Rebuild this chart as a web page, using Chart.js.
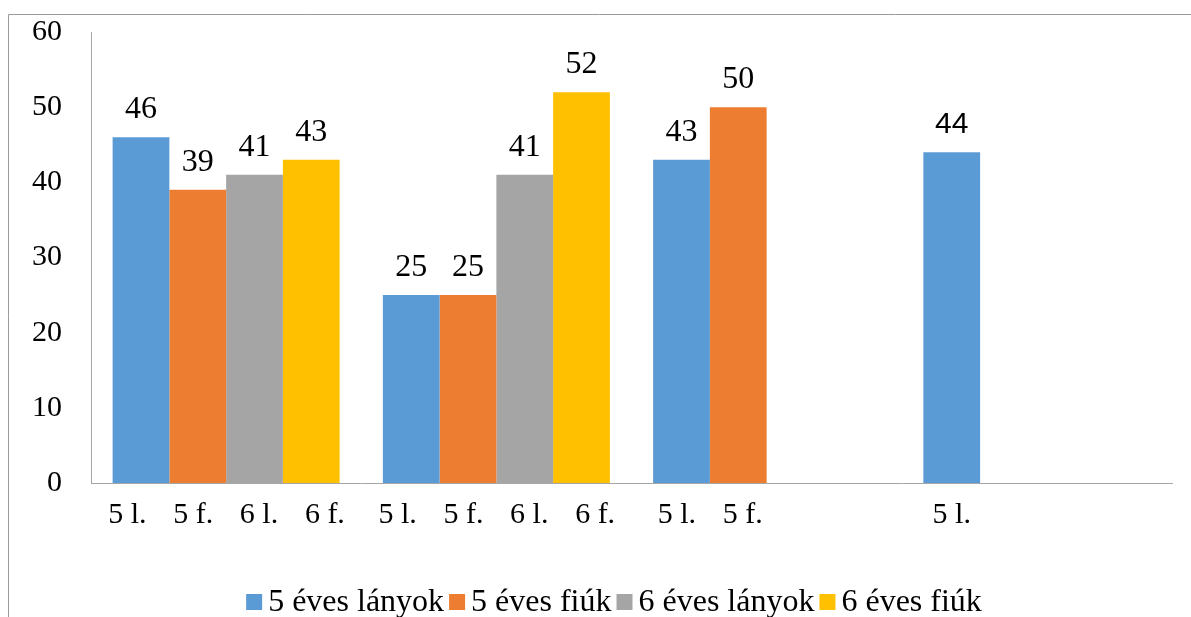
<!DOCTYPE html>
<html>
<head>
<meta charset="utf-8">
<script src="https://cdn.jsdelivr.net/npm/chart.js@4/dist/chart.umd.min.js"></script>
<style>
  html, body { margin: 0; padding: 0; background: #ffffff; }
  #wrap { width: 1191px; height: 617px; }
</style>
</head>
<body>
<div id="wrap"><canvas id="chart" width="1191" height="617"></canvas></div>
<script>
// Groups of bars (one per survey group)
const groups = ['I.', 'II.', 'III.', 'IV.'];

// Series values per group (null = no bar in that group)
const girls5 = [46, 25, 43, 44];
const boys5  = [39, 25, 50, null];
const girls6 = [41, 41, null, null];
const boys6  = [43, 52, null, null];

// Legend names and the short tag printed under each bar
const seriesNames = ['5 éves lányok', '5 éves fiúk', '6 éves lányok', '6 éves fiúk'];
const barTags = ['5 l.', '5 f.', '6 l.', '6 f.'];

// Value axis
const yMin = 0;
const yMax = 60;
const yStep = 10;

// Styling
const seriesColors = ['#5B9BD5', '#ED7D31', '#A5A5A5', '#FFC000'];
const SERIF = '"Liberation Serif", "Times New Roman", serif';
const SANS = '"Liberation Sans", Arial, sans-serif';
const sansLabelGroups = [3];          // groups whose value label is set in a sans face
const tagPitchFactor = 1.16;          // spacing of bar tags relative to bar width
const legendCenterX = 614;

const seriesData = [girls5, boys5, girls6, boys6];

const decorations = {
  id: 'decorations',
  beforeDraw(chart) {
    const ctx = chart.ctx;
    ctx.save();
    ctx.strokeStyle = '#9a9a9a';
    ctx.lineWidth = 1;
    ctx.beginPath();
    ctx.moveTo(8.5, chart.height);
    ctx.lineTo(8.5, 14.5);
    ctx.lineTo(chart.width, 14.5);
    ctx.stroke();
    ctx.restore();
  },
  afterDatasetsDraw(chart) {
    const ctx = chart.ctx;
    const area = chart.chartArea;
    ctx.save();
    ctx.fillStyle = '#000000';
    ctx.textAlign = 'center';
    ctx.textBaseline = 'alphabetic';

    // value labels above each bar
    chart.data.datasets.forEach((ds, di) => {
      const meta = chart.getDatasetMeta(di);
      meta.data.forEach((bar, i) => {
        const v = ds.data[i];
        if (v === null || v === undefined) return;
        const sans = sansLabelGroups.includes(i);
        ctx.font = sans ? '30px ' + SANS : '32px ' + SERIF;
        ctx.fillText(String(v), bar.x, bar.y - 19);
      });
    });

    // short tags under the bars of each group
    ctx.font = '30px ' + SERIF;
    groups.forEach((g, i) => {
      const present = [];
      chart.data.datasets.forEach((ds, di) => {
        const v = ds.data[i];
        if (v !== null && v !== undefined) {
          present.push({ di, bar: chart.getDatasetMeta(di).data[i] });
        }
      });
      if (!present.length) return;
      const first = present[0].bar;
      const last = present[present.length - 1].bar;
      const center = (first.x + last.x) / 2;
      const pitch = first.width * tagPitchFactor;
      const n = present.length;
      present.forEach((p, k) => {
        const x = center + (k - (n - 1) / 2) * pitch;
        ctx.fillText(barTags[p.di], x, area.bottom + 40);
      });
    });
    ctx.restore();
  },
  afterDraw(chart) {
    // legend along the bottom edge
    const ctx = chart.ctx;
    ctx.save();
    ctx.font = '32px ' + SERIF;
    const box = 16, gapText = 6, gapItem = 5;
    const widths = seriesNames.map(n => ctx.measureText(n).width);
    let total = 0;
    widths.forEach((w, i) => { total += box + gapText + w + (i < widths.length - 1 ? gapItem : 0); });
    let x = legendCenterX - total / 2;
    const baseline = 611;
    ctx.textAlign = 'left';
    ctx.textBaseline = 'alphabetic';
    seriesNames.forEach((name, i) => {
      ctx.fillStyle = seriesColors[i];
      ctx.fillRect(x, baseline - 17, box, box);
      x += box + gapText;
      ctx.fillStyle = '#000000';
      ctx.fillText(name, x, baseline);
      x += widths[i] + gapItem;
    });
    ctx.restore();
  }
};

new Chart(document.getElementById('chart'), {
  type: 'bar',
  data: {
    labels: groups,
    datasets: seriesData.map((d, i) => ({
      label: seriesNames[i],
      data: d,
      backgroundColor: seriesColors[i],
      borderWidth: 0,
      categoryPercentage: 0.84,
      barPercentage: 1.0
    }))
  },
  options: {
    responsive: false,
    animation: false,
    layout: { padding: { top: 32, right: 19, left: 0, bottom: 0 } },
    plugins: {
      legend: { display: false },
      tooltip: { enabled: false }
    },
    scales: {
      x: {
        grid: { display: false, drawTicks: false },
        border: { display: true, color: '#a6a6a6', width: 1 },
        ticks: { display: false },
        afterFit(scale) { scale.height = 134; }
      },
      y: {
        min: yMin,
        max: yMax,
        // grid lines are hidden; the tick length only sets the label gap
        grid: { display: false, drawTicks: true, tickLength: 29 },
        border: { display: true, color: '#a6a6a6', width: 1 },
        ticks: {
          stepSize: yStep,
          padding: 0,
          color: '#000000',
          font: { family: SERIF, size: 30 }
        },
        afterFit(scale) { scale.width = 91; }
      }
    }
  },
  plugins: [decorations]
});
</script>
</body>
</html>
